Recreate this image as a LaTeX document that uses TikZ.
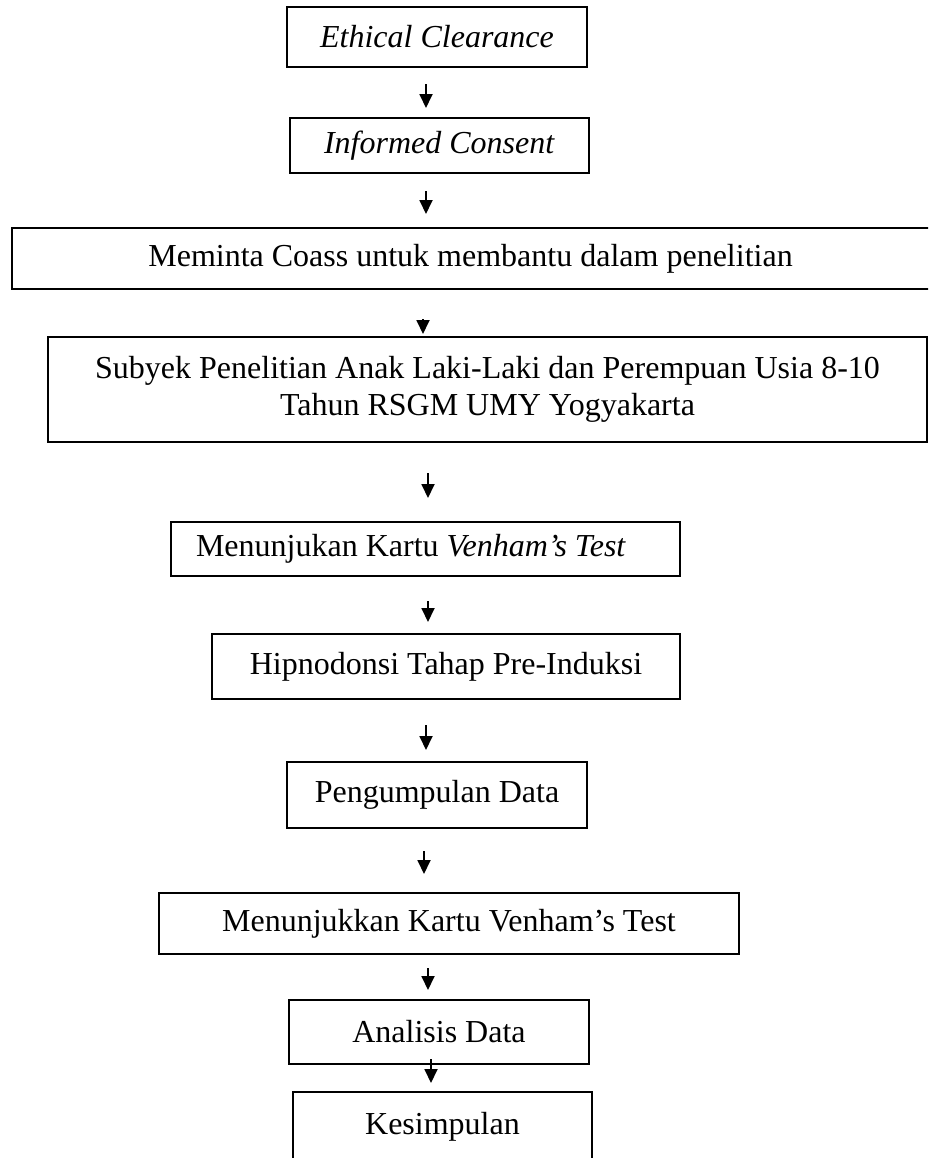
\documentclass[tikz,border=0pt]{standalone}
\usepackage{fontspec}
\setmainfont{Liberation Serif}
\usetikzlibrary{arrows.meta}

\begin{document}
\begin{tikzpicture}[x=0.5pt, y=-0.5pt,
    flowbox/.style={
        draw,
        line width=1pt,
        inner sep=0pt,
        align=center,
        font=\fontsize{16}{18.5}\selectfont
    },
    flow/.style={
        -{Triangle[width=6.5pt,length=7pt]},
        line width=0.9pt
    }
]

\useasboundingbox (0,0) rectangle (928,1158);
\clip (0,0) rectangle (928,1158);

%%%%%%%%%%%%%%%%%%%%%%%%
% Tahap persiapan
%%%%%%%%%%%%%%%%%%%%%%%%

\node[flowbox, minimum width=150pt, minimum height=30pt] (ethic) at (437,37) {\textit{Ethical Clearance}};
\node[flowbox, minimum width=149.5pt, minimum height=27.5pt] (consent) at (439.5,145.5) {\textit{Informed Consent}};
\node[flowbox, minimum width=461pt, minimum height=30.5pt] (coass) at (473,258.5) {Meminta Coass untuk membantu dalam penelitian\hspace*{2.5pt}};
\node[flowbox, minimum width=439.5pt, minimum height=52.5pt] (subjek) at (487.5,389.5)
    {Subyek Penelitian Anak Laki-Laki dan Perempuan Usia 8-10\\Tahun RSGM UMY Yogyakarta};

%%%%%%%%%%%%%%%%%%%%%%%%
% Tahap pelaksanaan
%%%%%%%%%%%%%%%%%%%%%%%%

\node[flowbox, minimum width=254.5pt, minimum height=27pt] (kartu) at (425.5,549) {Menunjukan Kartu \textit{Venham’s Test}\hspace*{14.5pt}};
\node[flowbox, minimum width=234pt, minimum height=32.5pt] (hipno) at (446,666.5) {Hipnodonsi Tahap Pre-Induksi};
\node[flowbox, minimum width=150pt, minimum height=33pt] (kumpul) at (437,795) {Pengumpulan Data};
\node[flowbox, minimum width=290pt, minimum height=30.5pt] (venham) at (449,923.5) {Menunjukkan Kartu Venham’s Test};

%%%%%%%%%%%%%%%%%%%%%%%%
% Tahap akhir
%%%%%%%%%%%%%%%%%%%%%%%%

\node[flowbox, minimum width=150pt, minimum height=32pt] (analisis) at (439,1032) {Analisis Data};
\node[flowbox, minimum width=149.5pt, minimum height=35pt] (simpul) at (442.5,1127) {Kesimpulan};

% --- Panah ---
\draw[flow] (ethic.south) ++(-11,16) -- ++(0,24);
\draw[flow] (consent.south) ++(-13.5,17) -- ++(0,23);
\draw[flow] (coass.south) ++(-50,29) -- ++(0,15);
\draw[flow] (subjek.south) ++(-59.5,30) -- ++(0,25);
\draw[flow] (kartu.south) ++(2.5,24) -- ++(0,21);
\draw[flow] (hipno.south) ++(-20,25) -- ++(0,25);
\draw[flow] (kumpul.south) ++(-13,22) -- ++(0,23);
\draw[flow] (venham.south) ++(-21,13) -- ++(0,22);
\draw[flow] (analisis.south) ++(-8,-6) -- ++(0,24);

\end{tikzpicture}
\end{document}
